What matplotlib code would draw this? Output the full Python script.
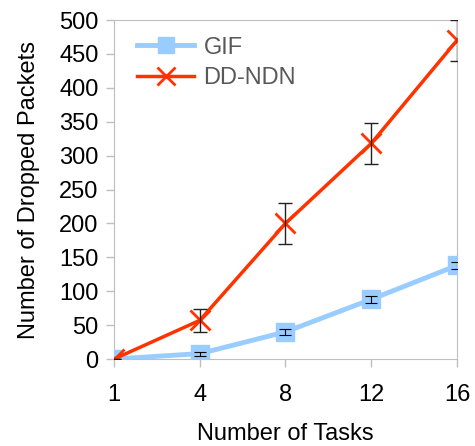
import matplotlib
matplotlib.use('Agg')
import matplotlib.pyplot as plt
import numpy as np

tasks    = ['1', '4', '8', '12', '16']
gif      = [0, 8, 40, 88, 138]
gif_err  = [0, 3, 5, 5, 5]
ddndn    = [0, 57, 200, 318, 470]
ddndn_err = [0, 17, 30, 30, 30]

plt.rcParams['font.family'] = ['Liberation Sans', 'DejaVu Sans']

fig = plt.figure(figsize=(4.75, 4.46), dpi=100)
ax = fig.add_axes([0.24, 0.195, 0.722, 0.76])
x = np.arange(len(tasks))

ax.plot(x, gif, color='#99ccff', lw=3.5, marker='s', ms=13, mec='#99ccff', label='GIF', zorder=3)
ax.errorbar(x, gif, yerr=gif_err, fmt='none', ecolor='black', elinewidth=0.8, capsize=4, capthick=0.8, zorder=4)
ax.plot(x, ddndn, color='#ff3300', lw=2.5, marker='x', ms=15, mew=2, label='DD-NDN', zorder=5)
ax.errorbar(x, ddndn, yerr=ddndn_err, fmt='none', ecolor='#222222', elinewidth=1, capsize=5, capthick=1, zorder=6)

ax.set_xlim(0, len(tasks) - 1)
ax.set_ylim(0, 500)
ax.set_xticks(x)
ax.set_xticklabels(tasks)
ax.set_yticks(range(0, 501, 50))
ax.tick_params(labelsize=17, colors='#bfbfbf', labelcolor='black', length=6, width=1)
ax.tick_params(axis='x', pad=12)
ax.tick_params(axis='y', pad=5)
for s in ax.spines.values():
    s.set_color('#bfbfbf')
ax.set_xlabel('Number of Tasks', fontsize=17, labelpad=12)
ax.set_ylabel('Number of Dropped Packets', fontsize=17, labelpad=14)

leg = ax.legend(loc='upper left', bbox_to_anchor=(0.02, 1.0), frameon=False, fontsize=17,
                handlelength=2.4, handletextpad=0.4, markerscale=0.85,
                borderaxespad=0.3, labelspacing=0.35)
for t in leg.get_texts():
    t.set_color('#595959')

fig.savefig('out.png', dpi=100)
